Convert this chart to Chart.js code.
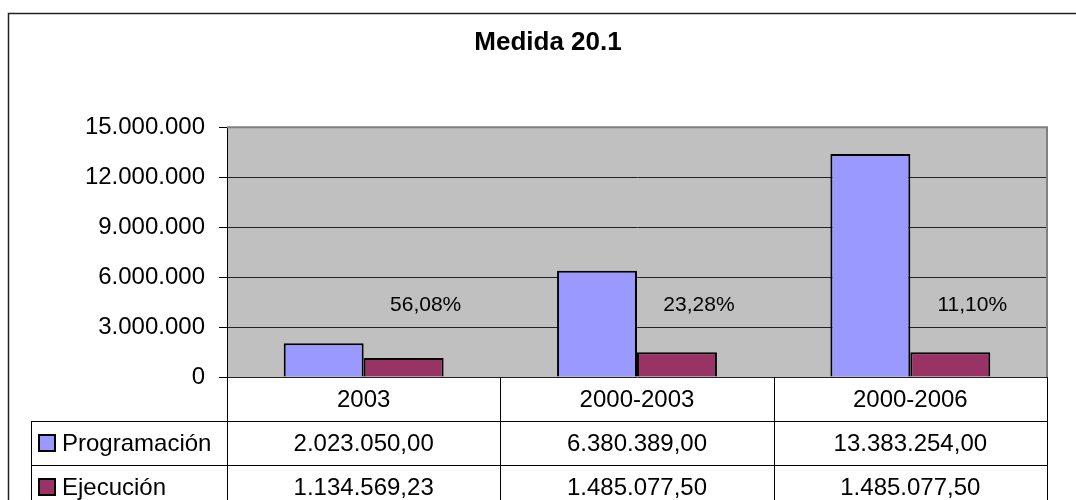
<!DOCTYPE html>
<html>
<head>
<meta charset="utf-8">
<script src="https://cdn.jsdelivr.net/npm/chart.js@4/dist/chart.umd.min.js"></script>
<style>
  body { margin: 0; background: #fff; }
  canvas { display: block; }
</style>
</head>
<body>
<canvas id="medida" width="1076" height="500"></canvas>
<script>
// ---- datos ----
const categories = ['2003', '2000-2003', '2000-2006'];
const programacion = [2023050.00, 6380389.00, 13383254.00];
const ejecucion = [1134569.23, 1485077.50, 1485077.50];
const seriesNames = ['Programación', 'Ejecución'];
const seriesColors = ['#9999FF', '#993366'];
const yTicks = [0, 3000000, 6000000, 9000000, 12000000, 15000000];

const FONT = "'Liberation Sans', Arial, sans-serif";

// formato español: 1.234.567,89
function fmtNum(v, dec) {
  const parts = v.toFixed(dec).split('.');
  const intPart = parts[0].replace(/\B(?=(\d{3})+(?!\d))/g, '.');
  return dec ? intPart + ',' + parts[1] : intPart;
}

// fondo gris del área de trazado
const plotBackground = {
  id: 'plotBackground',
  beforeDraw(chart) {
    const { ctx, chartArea: a } = chart;
    ctx.save();
    ctx.fillStyle = '#C0C0C0';
    ctx.fillRect(a.left, a.top, a.right - a.left, a.bottom - a.top);
    ctx.restore();
  }
};

// tabla de datos, porcentajes y marco
const dataTable = {
  id: 'dataTable',
  afterDraw(chart) {
    const { ctx, chartArea: a } = chart;
    const x = chart.scales.x;
    const y = chart.scales.y;
    const n = categories.length;
    const band = (a.right - a.left) / n;
    const rowH = 44;
    const legendLeft = 31;
    const top = a.bottom;

    ctx.save();

    // borde gris arriba y derecha del área
    ctx.strokeStyle = '#808080';
    ctx.lineWidth = 2;
    ctx.beginPath();
    ctx.moveTo(a.left, a.top);
    ctx.lineTo(a.right, a.top);
    ctx.lineTo(a.right, a.bottom);
    ctx.stroke();

    // porcentajes ejecución / programación
    const meta = chart.getDatasetMeta(1);
    ctx.fillStyle = '#000';
    ctx.font = '21px ' + FONT;
    ctx.textAlign = 'center';
    ctx.textBaseline = 'middle';
    meta.data.forEach((bar, i) => {
      const pct = fmtNum(ejecucion[i] / programacion[i] * 100, 2) + '%';
      ctx.fillText(pct, bar.x + 22, y.getPixelForValue(4300000));
    });

    // líneas de la tabla
    ctx.strokeStyle = '#000';
    ctx.lineWidth = 1;
    ctx.beginPath();
    for (let r = 1; r <= 3; r++) {
      const yy = Math.round(top + r * rowH) + 0.5;
      ctx.moveTo(legendLeft, yy);
      ctx.lineTo(a.right, yy);
    }
    ctx.moveTo(legendLeft + 0.5, top + rowH);
    ctx.lineTo(legendLeft + 0.5, top + rowH * 3);
    for (let c = 0; c <= n; c++) {
      const xx = Math.round(a.left + c * band) + 0.5;
      ctx.moveTo(xx, top);
      ctx.lineTo(xx, top + rowH * 3);
    }
    ctx.stroke();

    // textos de la tabla
    ctx.font = '24px ' + FONT;
    ctx.fillStyle = '#000';
    ctx.textAlign = 'center';
    categories.forEach((c, i) => {
      const cx = x.getPixelForValue(i);
      ctx.fillText(c, cx, top + rowH / 2 + 1);
      ctx.fillText(fmtNum(programacion[i], 2), cx, top + rowH * 1.5 + 1);
      ctx.fillText(fmtNum(ejecucion[i], 2), cx, top + rowH * 2.5 + 1);
    });

    // leyenda en la tabla
    seriesNames.forEach((name, s) => {
      const cy = top + rowH * (s + 1.5);
      ctx.fillStyle = seriesColors[s];
      ctx.fillRect(39, cy - 8, 16, 16);
      ctx.strokeStyle = '#000';
      ctx.lineWidth = 2;
      ctx.strokeRect(39, cy - 8, 16, 16);
      ctx.fillStyle = '#000';
      ctx.textAlign = 'left';
      ctx.fillText(name, 62, cy + 1);
    });

    // marco exterior
    ctx.strokeStyle = '#222';
    ctx.lineWidth = 1.5;
    ctx.strokeRect(8.5, 13.5, 1200, 700);

    ctx.restore();
  }
};

Chart.defaults.font.family = FONT;
Chart.defaults.color = '#000';

new Chart(document.getElementById('medida'), {
  type: 'bar',
  data: {
    labels: categories,
    datasets: [
      {
        label: seriesNames[0],
        data: programacion,
        backgroundColor: seriesColors[0],
        borderColor: '#000',
        borderWidth: 2,
        categoryPercentage: 0.585,
        barPercentage: 1.0
      },
      {
        label: seriesNames[1],
        data: ejecucion,
        backgroundColor: seriesColors[1],
        borderColor: '#000',
        borderWidth: 2,
        categoryPercentage: 0.585,
        barPercentage: 1.0
      }
    ]
  },
  options: {
    responsive: false,
    animation: false,
    layout: { padding: { left: 49, right: 29, top: 0, bottom: 123 } },
    plugins: {
      legend: { display: false },
      tooltip: { enabled: false },
      title: {
        display: true,
        text: 'Medida 20.1',
        color: '#000',
        font: { size: 26, weight: 'bold' },
        padding: { top: 27, bottom: 69 }
      }
    },
    scales: {
      x: { display: false },
      y: {
        min: 0,
        max: 15000000,
        afterBuildTicks: (scale) => { scale.ticks = yTicks.map(v => ({ value: v })); },
        afterFit: (scale) => { scale.width = 178; },
        grid: { color: '#222', lineWidth: 1, tickLength: 8, tickColor: '#000' },
        border: { color: '#000', width: 1 },
        ticks: {
          padding: 14,
          font: { size: 24 },
          callback: (v) => fmtNum(v, 0)
        }
      }
    }
  },
  plugins: [plotBackground, dataTable]
});
</script>
</body>
</html>
